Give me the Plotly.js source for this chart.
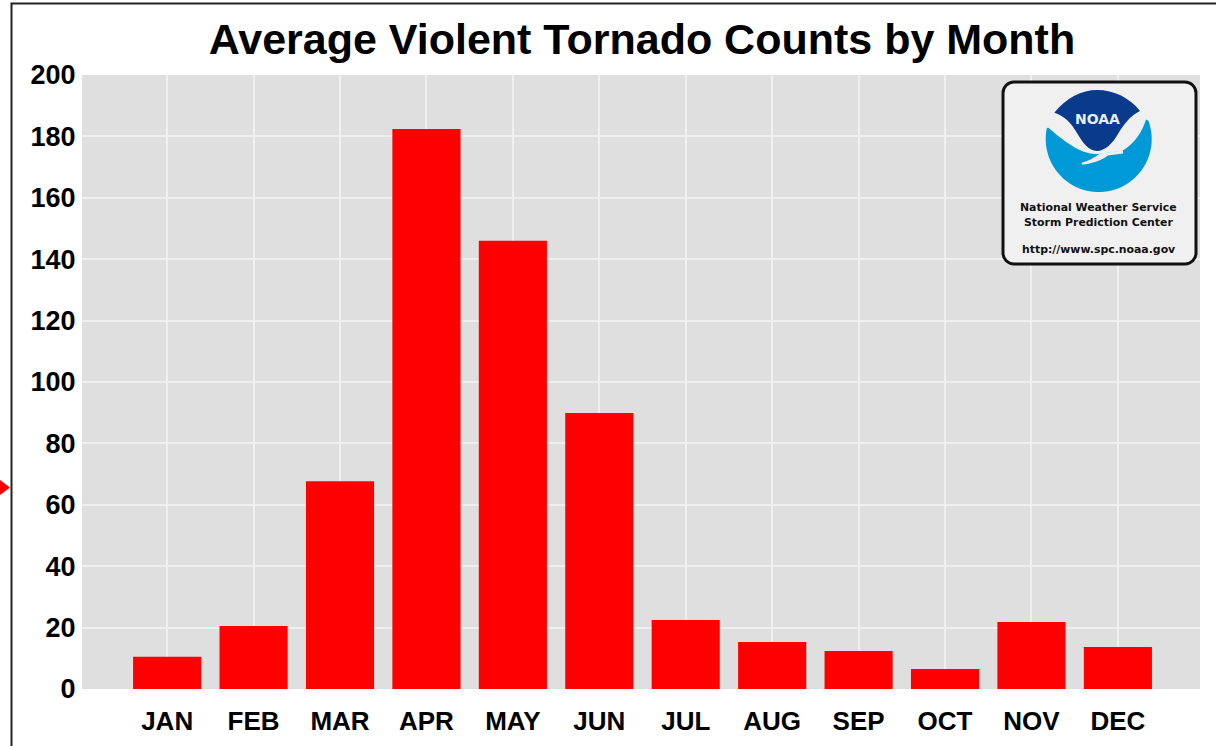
<!DOCTYPE html>
<html>
<head>
<meta charset="utf-8">
<script src="https://cdn.plot.ly/plotly-3.0.1.min.js"></script>
<style>html,body{margin:0;padding:0;background:#fff;overflow:hidden}</style>
</head>
<body>
<div id="chart" style="width:1216px;height:746px"></div>
<script>
var months = ["JAN","FEB","MAR","APR","MAY","JUN","JUL","AUG","SEP","OCT","NOV","DEC"];
var counts = [10.5,20.5,67.7,182.4,146,89.9,22.5,15.3,12.4,6.5,21.8,13.7];
var yTicks = [0,20,40,60,80,100,120,140,160,180,200];
var titleText = "Average Violent Tornado Counts by Month";
var logoLines = ["National Weather Service","Storm Prediction Center","http://www.spc.noaa.gov"];

var W = 1216, H = 746, L = 82, R = 16, T = 75, B = 57;
function px(x){return ((x-L)/(W-L-R)).toFixed(5);}
function py(y){return (1-(y-T)/(H-T-B)).toFixed(5);}
function P(x,y){return px(x)+","+py(y);}
function shape(path,fill,lineColor,lineWidth,layer){
  return {type:"path",xref:"paper",yref:"paper",layer:layer||"above",path:path,
    fillcolor:fill,line:{color:lineColor||"rgba(0,0,0,0)",width:lineWidth||0}};
}
function roundRect(x0,y0,x1,y1,r){
  var k=r*0.45;
  return "M"+P(x0+r,y0)+"L"+P(x1-r,y0)+"C"+P(x1-k,y0)+" "+P(x1,y0+k)+" "+P(x1,y0+r)+
    "L"+P(x1,y1-r)+"C"+P(x1,y1-k)+" "+P(x1-k,y1)+" "+P(x1-r,y1)+
    "L"+P(x0+r,y1)+"C"+P(x0+k,y1)+" "+P(x0,y1-k)+" "+P(x0,y1-r)+
    "L"+P(x0,y0+r)+"C"+P(x0,y0+k)+" "+P(x0+k,y0)+" "+P(x0+r,y0)+"Z";
}
function lowerBlue(cx,cy,r,a0,a1){
  var s="";
  for(var a=a0;a>=a1;a-=4){var t=a*Math.PI/180;s+=(s?"L":"M")+P(cx+r*Math.cos(t),cy+r*Math.sin(t));}
  return s;
}

var shapes = [
  shape("M"+P(11.5,746)+"L"+P(11.5,3.5)+"L"+P(1216,3.5),"rgba(0,0,0,0)","#222",2),
  shape("M"+P(0,480)+"L"+P(10,487.5)+"L"+P(0,495)+"Z","#ff0000"),
  shape(roundRect(1003,82,1196,264,11),"#f0f0f0","#111",3),
  shape(lowerBlue(1098.7,139,53,192,-22)+"L"+P(1146,119.5)+
        "C"+P(1143,130)+" "+P(1135,144)+" "+P(1122,151)+
        "L"+P(1098,154)+
        "C"+P(1082,154)+" "+P(1070,146)+" "+P(1048.3,127.7)+"Z","#0099d8"),
  shape("M"+P(1123,150.5)+"L"+P(1100,153.5)+"C"+P(1094,158)+" "+P(1088,161)+" "+P(1081.5,163)+
        "L"+P(1082,164.5)+"C"+P(1092,164)+" "+P(1102,160)+" "+P(1108,155.5)+"L"+P(1123,153.5)+"Z","#f0f0f0"),
  shape("M"+P(1054.3,112.7)+"C"+P(1066,98)+" "+P(1082,90)+" "+P(1097,90)+"C"+P(1114,90)+" "+P(1130,98)+" "+P(1140,111)+
        "C"+P(1130,116)+" "+P(1124,124)+" "+P(1118,134)+"C"+P(1113,143)+" "+P(1105,151)+" "+P(1097,151)+
        "C"+P(1089,151)+" "+P(1082,142)+" "+P(1077,133)+"C"+P(1071,122)+" "+P(1064,116)+" "+P(1054.3,112.7)+"Z","#0a3a8c")
];

var annotations = logoLines.map(function(t,i){
  return {xref:"paper",yref:"paper",x:px(1098.5),y:py([208,223,249][i]),text:t,showarrow:false,
    xanchor:"center",yanchor:"middle",font:{family:"DejaVu Sans",size:10.9,color:"#111",weight:700}};
});
annotations.push({xref:"paper",yref:"paper",x:px(1097.5),y:py(119),text:"NOAA",showarrow:false,
  xanchor:"center",yanchor:"middle",font:{family:"DejaVu Sans",size:14,color:"#e8eef8",weight:700}});

var layout = {
  width:W,height:H,autosize:false,
  margin:{l:L,r:R,t:T,b:B,pad:0},
  paper_bgcolor:"#ffffff",plot_bgcolor:"#dfdfdf",
  font:{family:"Liberation Sans",color:"#000"},
  title:{text:"<b>"+titleText+"</b>",x:642/W,xanchor:"center",y:1-39/H,yanchor:"middle",
    font:{family:"Liberation Sans",size:43,color:"#000"}},
  bargap:0.212,
  showlegend:false,
  xaxis:{type:"category",categoryorder:"array",categoryarray:months,range:[-0.985,11.95],
    showgrid:true,gridcolor:"#f0f0f0",gridwidth:2,zeroline:false,showline:false,
    ticks:"outside",ticklen:9,tickcolor:"rgba(0,0,0,0)",
    tickfont:{family:"Liberation Sans",size:26,color:"#000",weight:700}},
  yaxis:{range:[0,200],tickvals:yTicks,showgrid:true,gridcolor:"#f0f0f0",gridwidth:2,
    zeroline:false,showline:false,ticks:"outside",ticklen:0,tickcolor:"rgba(0,0,0,0)",
    tickfont:{family:"Liberation Sans",size:27,color:"#000",weight:700}},
  shapes:shapes,
  annotations:annotations
};
Plotly.newPlot("chart",[{type:"bar",x:months,y:counts,marker:{color:"#ff0000",line:{width:0}},hoverinfo:"x+y"}],layout,{displayModeBar:false,staticPlot:true});
</script>
</body>
</html>
